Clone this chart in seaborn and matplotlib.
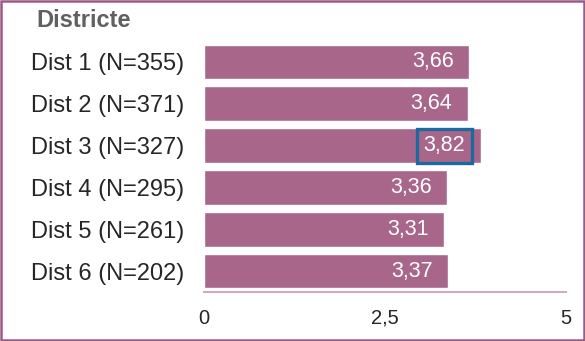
import matplotlib
matplotlib.use("Agg")
import matplotlib.pyplot as plt
import seaborn as sns
import pandas as pd
from matplotlib.patches import Rectangle

sns.set_style("white")
plt.rcParams['font.family'] = ['Liberation Sans', 'DejaVu Sans']

# data
districts = ["Dist 1 (N=355)", "Dist 2 (N=371)", "Dist 3 (N=327)",
             "Dist 4 (N=295)", "Dist 5 (N=261)", "Dist 6 (N=202)"]
scores = [3.66, 3.64, 3.82, 3.36, 3.31, 3.37]
highlight = "Dist 3 (N=327)"
xticks = [0, 2.5, 5]

df = pd.DataFrame({"district": districts, "score": scores})

bar_color = "#A8678A"

fig = plt.figure(figsize=(5.85, 3.41), dpi=100)
ax = fig.add_axes([0.3487, 0.1437, 0.6188, 0.7361])

sns.barplot(data=df, x="score", y="district", color=bar_color,
            saturation=1, width=0.83, ax=ax)

# value labels inside the bars
for i, (d, v) in enumerate(zip(districts, scores)):
    label = f"{v:.2f}".replace(".", ",")
    kw = {}
    if d == highlight:
        kw["bbox"] = dict(boxstyle="square,pad=0.3", facecolor="none",
                          edgecolor="#1C6A9C", linewidth=2.4)
    ax.annotate(label, xy=(v, i), xytext=(-11, 0), textcoords="offset points",
                ha="right", va="center", color="white", fontsize=15.5, **kw)

ax.set_xlim(0, 5)
ax.set_xticks(xticks)
ax.set_xticklabels([str(t).replace(".", ",") for t in xticks], fontsize=14.5)
ax.tick_params(axis="y", labelsize=17, length=0, pad=14)
ax.tick_params(axis="x", length=0, pad=12)
ax.set_xlabel("")
ax.set_ylabel("")

for s in ["top", "right", "left"]:
    ax.spines[s].set_visible(False)
ax.spines["bottom"].set_color("#D6A9C2")
ax.spines["bottom"].set_linewidth(1.5)

fig.text(0.063, 0.94, "Districte", fontsize=17, fontweight="bold",
         color="#606060", ha="left", va="center")

# purple frame around the figure
fig.patches.append(Rectangle((0.002, 0.003), 0.996, 0.994, transform=fig.transFigure,
                             fill=False, edgecolor="#9E5A86", linewidth=1.8))

fig.savefig("out.png", dpi=100)
